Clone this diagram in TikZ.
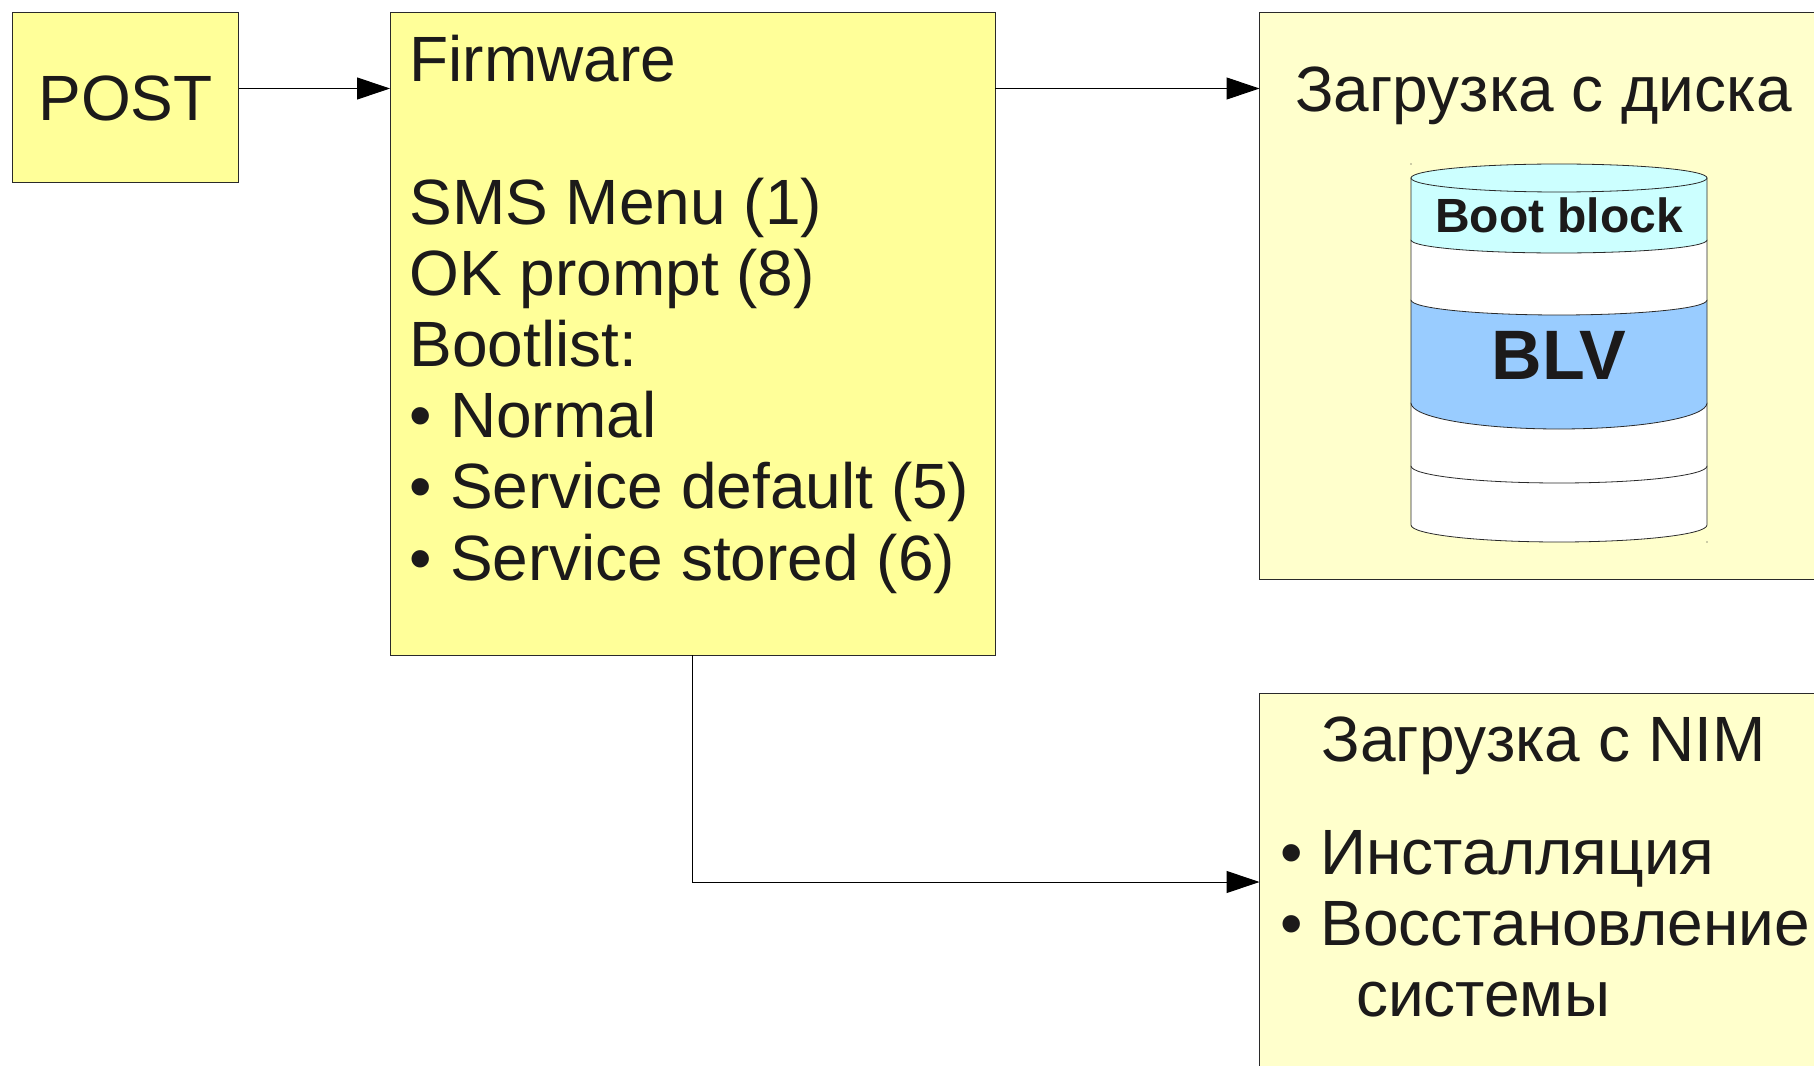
\documentclass[tikz,border=0pt]{standalone}
\usepackage{fontspec}
\setmainfont{Liberation Sans}
\usetikzlibrary{arrows.meta}
\definecolor{txt}{HTML}{1C1A1A}
\definecolor{ln}{HTML}{2A2A2A}
\definecolor{yel}{HTML}{FFFF99}
\definecolor{pale}{HTML}{FFFFCC}
\definecolor{cy}{HTML}{CCFFFF}
\definecolor{bl}{HTML}{99CCFF}
\newcommand{\bul}{\makebox[30.4pt][l]{•}}
\newcommand{\disklayer}[4]{%
  \draw[disk,fill=#4] (1411,#1) -- (1411,#2) arc[start angle=180,end angle=360,x radius=111pt,y radius=#3*0.75pt] -- (1707,#1) -- cycle;}
\tikzset{
  box/.style={draw=ln,line width=0.75pt,anchor=north west,inner sep=0pt,outer sep=0pt},
  disk/.style={draw=ln,line width=0.6pt},
  label/.style={inner sep=0pt,outer sep=0pt,text=txt,font=\fontsize{48pt}{53.4pt}\selectfont},
  flow/.style={draw=black,line width=0.75pt,-{Triangle[length=24.75pt,width=16.5pt]}},
}
\begin{document}
\begin{tikzpicture}[x=0.75pt,y=-0.75pt]
\clip (0,0) rectangle (1814,1066);
\fill[white] (0,0) rectangle (1814,1066);
% boxes
\node[box,fill=yel,minimum width=170pt,minimum height=127.5pt] (post) at (12,13) {};
\node[box,fill=yel,minimum width=454pt,minimum height=481.5pt] (fw) at (390,13) {};
\node[box,fill=pale,minimum width=450pt,minimum height=424.5pt] (dsk) at (1259.5,13) {};
\node[box,fill=pale,minimum width=450pt,minimum height=300pt] (nim) at (1259.5,693) {};
% levels of the connectors
\coordinate (upper) at (0,88.5);
\coordinate (lower) at (0,882);
\draw[flow] (post.east |- upper) -- (fw.west |- upper);
\draw[flow] (fw.east |- upper) -- (dsk.west |- upper);
\draw[flow] (fw.south) |- (nim.west |- lower);
% disk
\disklayer{466}{525}{17}{white}
\disklayer{403}{466}{17}{white}
\disklayer{300}{403}{26}{bl}
\disklayer{240}{300}{15}{white}
\disklayer{178}{240}{13}{cy}
\draw[disk,fill=cy] (1559,178) ellipse[x radius=111pt,y radius=10.5pt];
\fill[ln] (1411,164) circle[radius=0.4pt] (1707,542) circle[radius=0.4pt];
% texts
\node[label,anchor=base] (tpost) at (125.5,120.5) {POST};
\node[label,anchor=north west,align=left] (tfw) at (409.5,35.3) {Firmware\\[0pt]\mbox{}\\SMS Menu (1)\\OK prompt (8)\\Bootlist:\\\bul Normal\\\bul Service default (5)\\\bul Service stored (6)};
\node[label,anchor=base] (tdsk) at (1543.5,111.5) {Загрузка с диска};
\node[label,anchor=base] (tnim) at (1543.5,761.5) {Загрузка с NIM};
\node[label,anchor=north west,align=left] (tlist) at (1280,830) {\bul Инсталляция\\\bul Восстановление\\\hspace{57pt}системы};
\node[inner sep=0pt,text=txt,font=\bfseries\fontsize{36pt}{40pt}\selectfont,anchor=base] (tboot) at (1559,232.5) {Boot block};
\node[inner sep=0pt,text=txt,font=\bfseries\fontsize{52.5pt}{58pt}\selectfont,anchor=base] (tblv) at (1559,379) {BLV};
\end{tikzpicture}
\end{document}
